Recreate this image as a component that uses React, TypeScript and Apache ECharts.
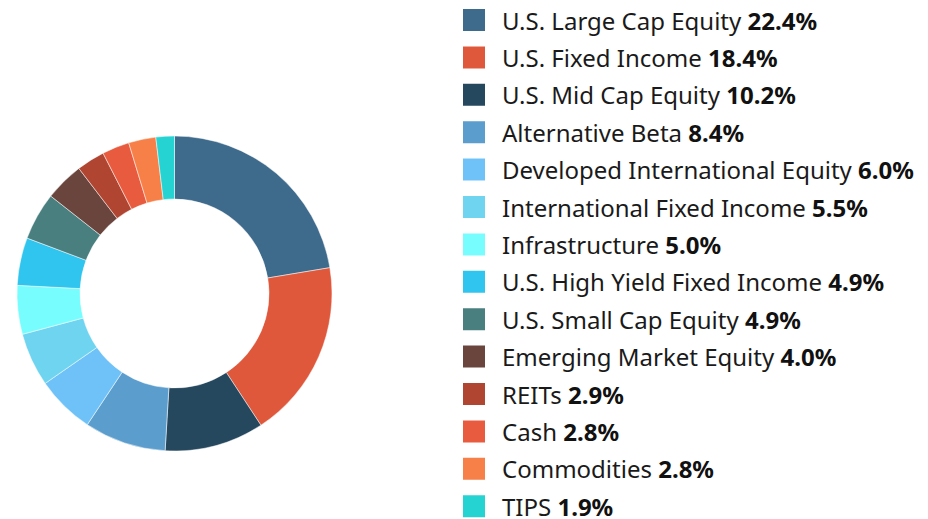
import React, { useEffect, useRef } from "react";
import * as echarts from "echarts";

const categories = [
  "U.S. Large Cap Equity",
  "U.S. Fixed Income",
  "U.S. Mid Cap Equity",
  "Alternative Beta",
  "Developed International Equity",
  "International Fixed Income",
  "Infrastructure",
  "U.S. High Yield Fixed Income",
  "U.S. Small Cap Equity",
  "Emerging Market Equity",
  "REITs",
  "Cash",
  "Commodities",
  "TIPS",
];

const values = [22.4, 18.4, 10.2, 8.4, 6.0, 5.5, 5.0, 4.9, 4.9, 4.0, 2.9, 2.8, 2.8, 1.9];

const colors = [
  "#3e6a8c",
  "#e0583b",
  "#25485f",
  "#5b9dcd",
  "#6ec2f8",
  "#6ed4f0",
  "#78fdfe",
  "#2fc5ee",
  "#4a7f80",
  "#69453d",
  "#b04631",
  "#e85b3e",
  "#f77f48",
  "#25d3d3",
];

export default function App() {
  const ref = useRef<HTMLDivElement>(null);

  useEffect(() => {
    document.body.style.margin = "0";
    if (!ref.current) return;
    const chart = echarts.init(ref.current, null, { renderer: "svg" });
    const valueMap: Record<string, number> = {};
    categories.forEach((c, i) => (valueMap[c] = values[i]));

    chart.setOption({
      animation: false,
      color: colors,
      legend: {
        orient: "vertical",
        left: 461,
        top: 7,
        height: 600,
        padding: 0,
        itemWidth: 24,
        itemHeight: 24,
        itemGap: 11.4,
        icon: "rect",
        data: categories,
        formatter: (name: string) => `${name} {b|${valueMap[name].toFixed(1)}%}`,
        textStyle: {
          fontFamily: "Noto Sans",
          fontSize: 24,
          lineHeight: 24,
          color: "#1a1a1a",
          padding: [0, 0, 0, 11],
          rich: {
            b: {
              fontFamily: "Noto Sans",
              fontSize: 24,
              lineHeight: 24,
              fontWeight: "bold",
              color: "#111",
            },
          },
        },
      },
      series: [
        {
          type: "pie",
          center: [174.5, 293.5],
          radius: [94.5, 157.5],
          startAngle: 90,
          clockwise: true,
          label: { show: false },
          labelLine: { show: false },
          itemStyle: { borderColor: "#ffffff", borderWidth: 0.5 },
          data: categories.map((c, i) => ({ name: c, value: values[i] })),
        },
      ],
    });
    return () => chart.dispose();
  }, []);

  return <div ref={ref} style={{ width: 928, height: 519 }} />;
}
